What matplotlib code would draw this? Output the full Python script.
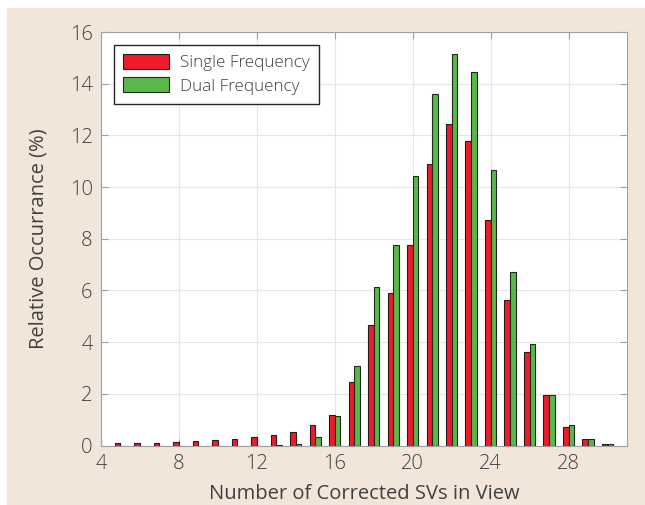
import matplotlib
matplotlib.use("Agg")
import matplotlib.pyplot as plt
import numpy as np
from matplotlib.patches import Rectangle

sv_counts = [5, 6, 7, 8, 9, 10, 11, 12, 13, 14, 15, 16, 17, 18, 19, 20, 21, 22, 23, 24, 25, 26, 27, 28, 29, 30]
single_freq = [0.10, 0.10, 0.10, 0.15, 0.18, 0.23, 0.26, 0.31, 0.39, 0.53, 0.81, 1.17, 2.47, 4.67, 5.90, 7.75,
               10.90, 12.44, 11.80, 8.73, 5.64, 3.62, 1.94, 0.73, 0.24, 0.05]
dual_freq = [0.0, 0.0, 0.0, 0.0, 0.0, 0.0, 0.0, 0.0, 0.02, 0.05, 0.31, 1.13, 3.09, 6.14, 7.76, 10.42,
             13.60, 15.16, 14.45, 10.67, 6.72, 3.93, 1.95, 0.80, 0.27, 0.05]
series_labels = ["Single Frequency", "Dual Frequency"]
x_ticks = [4, 8, 12, 16, 20, 24, 28]
y_ticks = [0, 2, 4, 6, 8, 10, 12, 14, 16]

plt.rcParams['font.family'] = ['Open Sans', 'DejaVu Sans']
plt.rcParams['font.weight'] = 'light'

fig = plt.figure(figsize=(6.45, 5.05), dpi=100)
fig.patch.set_facecolor('white')
fig.patches.append(Rectangle((7/645, 0), 1, 1 - 8/505, transform=fig.transFigure,
                             facecolor='#f2e6da', edgecolor='none', zorder=-10))

ax = fig.add_axes([101/645, 1 - 445.5/505, (627-101)/645, (445.5-32)/505])
ax.set_facecolor('white')

x = np.array(sv_counts, dtype=float)
w = 0.29
red = '#ee1c2b'
green = '#5ab84a'
ax.bar(x - w/2, single_freq, width=w, color=red, edgecolor='#2a1a1a', linewidth=0.8,
       label=series_labels[0], zorder=3)
ax.bar(x + w/2, dual_freq, width=w, color=green, edgecolor='#1e2a1a', linewidth=0.8,
       label=series_labels[1], zorder=3)

ax.set_xlim(4, 31)
ax.set_ylim(0, 16)
ax.set_xticks(x_ticks)
ax.set_yticks(y_ticks)
ax.grid(True, color='#e6e6e6', linewidth=0.8, zorder=0)
ax.set_axisbelow(True)
for s in ax.spines.values():
    s.set_color('#a0a0a0')
    s.set_linewidth(0.8)
ax.tick_params(direction='in', length=5, color='#a0a0a0', top=True, right=True,
               labelsize=14.5, labelcolor='#404040', pad=6)

ax.set_xlabel('Number of Corrected SVs in View', fontsize=14.5, color='#404040', labelpad=7)
ax.set_ylabel('Relative Occurrance (%)', fontsize=14.5, color='#404040', labelpad=15)

leg = ax.legend(loc='upper left', bbox_to_anchor=(0.008, 0.99), fontsize=12.3,
                frameon=True, fancybox=False, edgecolor='#262626', framealpha=1,
                handlelength=2.7, handleheight=0.95, borderpad=0.55, labelspacing=0.35,
                handletextpad=0.6)
leg.get_frame().set_linewidth(1.0)
for t in leg.get_texts():
    t.set_color('#404040')

fig.savefig('out.png', dpi=100, facecolor=fig.get_facecolor())
